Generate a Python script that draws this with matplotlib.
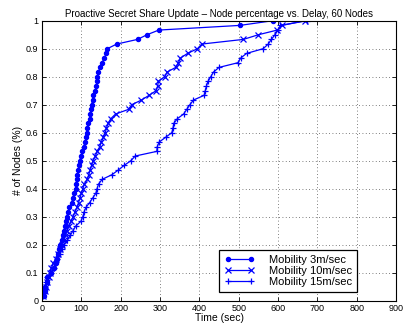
import numpy as np
import matplotlib
matplotlib.use("Agg")
import matplotlib.pyplot as plt

plt.rcParams['font.family'] = ['Liberation Sans', 'DejaVu Sans']

# Per-node update delay (sec), sorted; 60 nodes per mobility scenario
delay_3ms = [5, 7, 9, 12, 14, 24, 30, 35, 38, 42, 44, 46, 50, 53, 56, 58, 60, 63,
             66, 70, 76, 78, 82, 86, 87, 88, 90, 92, 94, 96, 99, 103, 106, 110, 112, 114,
             115, 118, 121, 123, 125, 126, 129, 130, 136, 138, 140, 141, 143, 148, 153, 158,
             164, 166, 190, 243, 267, 297, 503, 586]
delay_10ms = [4, 8, 10, 14, 17, 20, 24, 29, 35, 40, 46, 52, 56, 60, 64, 69, 74, 79,
              84, 89, 93, 97, 100, 104, 108, 115, 119, 123, 126, 130, 136, 140, 147, 151, 156, 161,
              164, 168, 175, 187, 220, 228, 253, 272, 290, 294, 296, 312, 318, 340, 347, 352,
              370, 395, 406, 512, 550, 598, 610, 668]
delay_15ms = [4, 6, 9, 11, 14, 22, 30, 34, 38, 45, 51, 57, 65, 72, 79, 86, 99, 104,
              107, 112, 121, 129, 137, 140, 144, 153, 178, 194, 209, 226, 237, 292, 293, 298, 314, 330,
              333, 335, 344, 360, 368, 376, 385, 412, 415, 418, 422, 429, 436, 450, 498, 505,
              520, 562, 575, 583, 592, 600, 606, 673]

labels = ["Mobility 3m/sec", "Mobility 10m/sec", "Mobility 15m/sec"]
markers = [".", "x", "+"]
x_ticks = [0, 100, 200, 300, 400, 500, 600, 700, 800, 900]
y_ticks = [0, 0.1, 0.2, 0.3, 0.4, 0.5, 0.6, 0.7, 0.8, 0.9, 1]
y_tick_labels = ["0", "0.1", "0.2", "0.3", "0.4", "0.5", "0.6", "0.7", "0.8", "0.9", "1"]

fig = plt.figure(figsize=(4.03, 3.24), dpi=100)
ax = fig.add_axes([0.104, 0.072, 0.879, 0.864])

for delays, lab, mk in zip([delay_3ms, delay_10ms, delay_15ms], labels, markers):
    d = np.asarray(delays, dtype=float)
    frac = np.arange(1, len(d) + 1) / len(d)
    ms = 6 if mk == "." else 4
    ax.plot(d, frac, color=(0, 0, 1), marker=mk, markersize=ms,
            linewidth=0.9, markeredgewidth=0.9, label=lab)

ax.set_xlim(0, 900)
ax.set_ylim(0, 1)
ax.set_xticks(x_ticks)
ax.set_yticks(y_ticks)
ax.set_yticklabels(y_tick_labels)
ax.tick_params(direction="in", top=True, right=True, labelsize=6.5, length=3,
               width=0.6, pad=2.5)
ax.grid(True, linestyle=(0, (1, 3)), color="#555555", linewidth=0.6)
for s in ax.spines.values():
    s.set_linewidth(0.8)

ax.set_title("Proactive Secret Share Update \u2013 Node percentage vs. Delay, 60 Nodes",
             fontsize=7, pad=3)
ax.set_xlabel("Time (sec)", fontsize=7.5, labelpad=0)
ax.xaxis.set_label_coords(0.5, -0.045)
ax.set_ylabel("# of Nodes (%)", fontsize=7.5, labelpad=2)

leg = ax.legend(loc="lower right", bbox_to_anchor=(0.889, 0.03), fontsize=8,
                numpoints=2, fancybox=False, framealpha=1, edgecolor="black",
                handlelength=2.7, borderpad=0.45, labelspacing=0.12, handletextpad=1.3,
                borderaxespad=0.0)
leg.get_frame().set_linewidth(0.9)

fig.savefig("out.png", dpi=100)
